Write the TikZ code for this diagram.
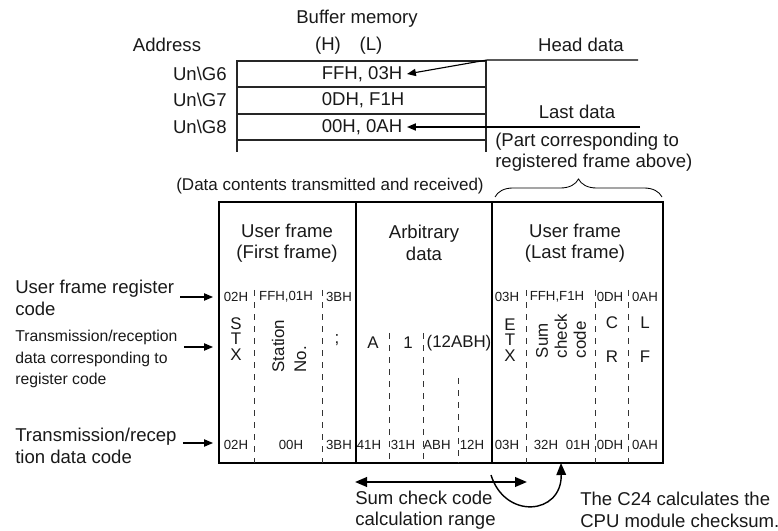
\documentclass[tikz,border=0pt]{standalone}
\usepackage{fontspec}
\setmainfont{Liberation Sans}
\usetikzlibrary{positioning,arrows.meta,decorations.pathreplacing}

\begin{document}
\begin{tikzpicture}[x=0.025cm, y=-0.025cm,
  font=\fontsize{13.2}{15.2}\selectfont, text=black!90,
  txt/.style={inner sep=0pt, align=left},
  lbl/.style={inner sep=0pt, align=left},
  code/.style={inner sep=0pt, font=\fontsize{9.4}{11}\selectfont},
  chr/.style={inner sep=0pt, align=center, font=\fontsize{12}{11.2}\selectfont},
  sec/.style={draw=black, line width=1.4pt, minimum height=6.525cm, inner sep=0pt},
  cell/.style={draw=black!85, line width=1pt},
  sep/.style={draw=black!80, line width=0.5pt, dash pattern=on 0.14cm off 0.16cm},
  conn/.style={draw=black, line width=0.8pt, -{Triangle[length=2.2mm,width=1.8mm]}},
  bold/.style={draw=black, line width=1.5pt}]
\useasboundingbox (0,0) rectangle (778,531);

\node[txt] (bufmem) at (357,19) {Buffer memory};
\node[txt] (addr) at (167,45) {Address};
\node[txt] (hbyte) at (328,46) {(H)};
\node[txt] (lbyte) at (371,46) {(L)};
\draw[cell] (237,152) -- (237,61) -- (486,61) -- (486,152);
\foreach \y in {87,114,140}
  \draw[cell] (237,\y) -- (486,\y);
\foreach \g/\v/\y in {6/{FFH, 03H}/74, 7/{0DH, F1H}/100, 8/{00H, 0AH}/127}{
  \node[txt, anchor=east] (addr\g) at (227,\y) {Un\textbackslash G\g};
  \node[txt, anchor=west, outer sep=0.12cm] (val\g) at (317,\y) {\v};
}
\node[txt] (headlbl) at (581,45) {Head data};
\node[txt] (lastlbl) at (577,112) {Last data};
\coordinate (headend) at (638,60);
\coordinate (headbend) at (487,60);
\coordinate (lastend) at (640,127);
\draw[conn] (headend) -- (headbend) -- (val6.east);
\draw[conn] (lastend) -- (val8.east);
\node[txt, anchor=west] (part) at (495,152) {(Part corresponding to\\registered frame above)};
\draw[line width=0.6pt, decorate, decoration={brace, amplitude=0.45cm}] (495,197) -- (662,197);

\node[txt, font=\fontsize{12.1}{14}\selectfont] (contents) at (330,186) {(Data contents transmitted and received)};
\node[sec, minimum width=3.425cm] (first) at (287.5,332.5) {};
\node[sec, minimum width=3.4cm] (arb) at (424,332.5) {};
\node[sec, minimum width=4.275cm] (lastfr) at (577.5,332.5) {};
\node[txt, align=center] (firsthd) at (287,243) {User frame\\(First frame)};
\node[txt, align=center] (arbhd) at (424,243) {Arbitrary\\data};
\node[txt, align=center] (lasthd) at (575,243) {User frame\\(Last frame)};

\foreach \x in {254,322,526,595,628}
  \draw[sep] (\x,290) -- (\x,463);
\foreach \x in {389,423}
  \draw[sep] (\x,333) -- (\x,463);
\draw[sep] (458,378) -- (458,463);

\foreach \x/\c in {236/02H, 286/{FFH,01H}, 339/3BH, 507/03H, 557/{FFH,F1H}, 610/0DH, 645/0AH}
  \node[code] (reg\x) at (\x,297) {\c};
\foreach \x/\c in {236/02H, 291/00H, 339/3BH, 369/41H, 403/31H, 437/ABH, 472/12H, 507/03H, 546/32H, 578/01H, 610/0DH, 645/0AH}
  \node[code] (dat\x) at (\x,445) {\c};

\node[chr] (stx) at (236,339) {S\\T\\X};
\node[chr, rotate=90, align=left, font=\fontsize{12}{15.6}\selectfont] (station) at (289,346) {Station\\No.};
\node[chr] (semi) at (337,340) {;};
\node[chr] (chA) at (373,343) {A};
\node[chr] (chone) at (408,343) {1};
\node[chr] (hexval) at (459,343) {(12ABH)};
\node[chr] (etx) at (510,340) {E\\T\\X};
\node[chr, rotate=90, align=left, font=\fontsize{12}{13.5}\selectfont] (sumcode) at (561,336) {Sum\\check\\code};
\node[chr] (chC) at (612,323) {C};
\node[chr] (chR) at (612,357) {R};
\node[chr] (chL) at (645,323) {L};
\node[chr] (chF) at (645,357) {F};

\node[lbl, anchor=west] (regcode) at (15,298) {User frame register\\code};
\node[lbl, anchor=west, font=\fontsize{11.2}{15.2}\selectfont] (trxdata) at (15,359) {Transmission/reception\\data corresponding to\\register code};
\node[lbl, anchor=west] (trxcode) at (15,446) {Transmission/recep\\tion data code};
\coordinate (in1) at (213,297);
\coordinate (in2) at (213,347);
\coordinate (in3) at (213,443);
\foreach \s/\t in {regcode/in1, trxdata/in2, trxcode/in3}
  \draw[conn, shorten <=0.15cm] (\s.east |- \t) -- (\t);

\coordinate (rangeL) at (355,482);
\coordinate (rangeR) at (527,482);
\draw[bold, {Triangle[length=3mm,width=2.4mm]}-{Triangle[length=3mm,width=2.4mm]}] (rangeL) -- (rangeR);
\node[txt, anchor=west] (rangelbl) at (355,510) {Sum check code\\calculation range};
\coordinate (calcfrom) at (491,475);
\coordinate (calcto) at (561,463);
\draw[bold, line width=1pt, -{Triangle[length=3mm,width=2.4mm]}] (calcfrom) .. controls (505,520) and (562,515) .. (calcto);
\node[txt, anchor=west] (calclbl) at (580,510) {The C24 calculates the\\CPU module checksum.};
\end{tikzpicture}
\end{document}
